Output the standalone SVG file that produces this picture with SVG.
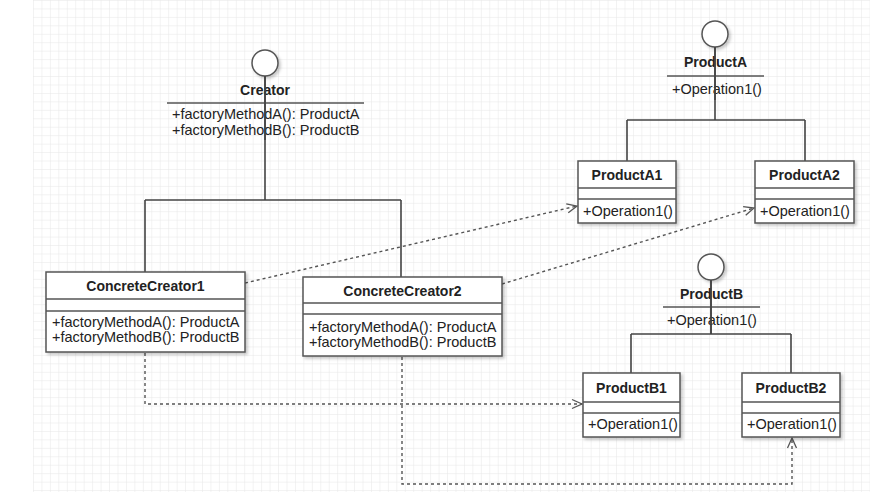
<svg xmlns="http://www.w3.org/2000/svg" width="896" height="495" viewBox="0 0 896 495">
<defs>
<pattern id="grid" x="33" y="0" width="8.45" height="8.45" patternUnits="userSpaceOnUse">
<path d="M0 0H8.45M0 0V8.45" fill="none" stroke="#e6e6e6" stroke-width="1"/>
</pattern>
<filter id="sh" x="-10%" y="-10%" width="130%" height="130%">
<feDropShadow dx="2" dy="2" stdDeviation="1.5" flood-color="#000" flood-opacity="0.22"/>
</filter>
<marker id="open" viewBox="0 0 12 12" refX="11" refY="6" markerWidth="12" markerHeight="12" markerUnits="userSpaceOnUse" orient="auto">
<path d="M1 1.5L11 6L1 10.5" fill="none" stroke="#555" stroke-width="1.3"/>
</marker>
<style>
.box{fill:#fff;stroke:#555;stroke-width:1.5;filter:url(#sh)}
.div{stroke:#555;stroke-width:1.5}
.title{font-family:"Liberation Sans",Arial,sans-serif;font-size:14px;font-weight:bold;fill:#222;text-anchor:middle}
.mem{font-family:"Liberation Sans",Arial,sans-serif;font-size:14.5px;fill:#222}
.gen{fill:none;stroke:#444;stroke-width:1.6}
.dep{fill:none;stroke:#555;stroke-width:1.4;stroke-dasharray:3 3}
.lol{fill:#fff;stroke:#555;stroke-width:1.5;filter:url(#sh)}
</style>
</defs>
<rect x="0" y="0" width="896" height="495" fill="#fff"/>
<rect x="33" y="0" width="837" height="492" fill="url(#grid)"/>

<g id="connectors">
<path class="gen" d="M265 76V200M145 200H401M145 200V272M401 200V277"/>
<path class="gen" d="M715 47V120M627 120H805M627 120V161M805 120V161"/>
<path class="gen" d="M711 280V334M631 334H791M631 334V373M791 334V373"/>
<path class="dep" d="M245 283L577 206" marker-end="url(#open)"/>
<path class="dep" d="M502 284L754 208" marker-end="url(#open)"/>
<path class="dep" d="M145 353V404H582" marker-end="url(#open)"/>
<path class="dep" d="M402 357V484H792V438" marker-end="url(#open)"/>
</g>

<g id="Creator">
<circle class="lol" cx="265" cy="63" r="13"/>
<text class="title" x="265" y="95">Creator</text>
<line class="div" x1="167" y1="103" x2="364" y2="103"/>
<text class="mem" x="172" y="119">+factoryMethodA(): ProductA</text>
<text class="mem" x="172" y="135">+factoryMethodB(): ProductB</text>
<line x1="265" y1="76" x2="265" y2="140" stroke="#444" stroke-width="1.6"/>
</g>

<g id="ConcreteCreator1">
<rect class="box" x="46" y="272" width="199" height="80"/>
<line class="div" x1="46" y1="299" x2="245" y2="299"/>
<line class="div" x1="46" y1="311" x2="245" y2="311"/>
<text class="title" x="145.5" y="291">ConcreteCreator1</text>
<text class="mem" x="52" y="327">+factoryMethodA(): ProductA</text>
<text class="mem" x="52" y="342">+factoryMethodB(): ProductB</text>
</g>

<g id="ConcreteCreator2">
<rect class="box" x="303" y="277" width="199" height="79"/>
<line class="div" x1="303" y1="303" x2="502" y2="303"/>
<line class="div" x1="303" y1="314" x2="502" y2="314"/>
<text class="title" x="402.5" y="296">ConcreteCreator2</text>
<text class="mem" x="309" y="332">+factoryMethodA(): ProductA</text>
<text class="mem" x="309" y="347">+factoryMethodB(): ProductB</text>
</g>

<g id="ProductA">
<circle class="lol" cx="715" cy="34" r="13"/>
<text class="title" x="715.5" y="67">ProductA</text>
<line class="div" x1="667" y1="76" x2="764" y2="76"/>
<text class="mem" x="672" y="94">+Operation1()</text>
<line x1="715" y1="47" x2="715" y2="100" stroke="#444" stroke-width="1.6"/>
</g>

<g id="ProductA1">
<rect class="box" x="578" y="161" width="98" height="62"/>
<line class="div" x1="578" y1="188" x2="676" y2="188"/>
<line class="div" x1="578" y1="199" x2="676" y2="199"/>
<text class="title" x="627" y="180">ProductA1</text>
<text class="mem" x="583" y="216">+Operation1()</text>
</g>

<g id="ProductA2">
<rect class="box" x="755" y="161" width="99" height="62"/>
<line class="div" x1="755" y1="188" x2="854" y2="188"/>
<line class="div" x1="755" y1="199" x2="854" y2="199"/>
<text class="title" x="804.5" y="180">ProductA2</text>
<text class="mem" x="760" y="216">+Operation1()</text>
</g>

<g id="ProductB">
<circle class="lol" cx="711" cy="267" r="13"/>
<text class="title" x="711.5" y="299">ProductB</text>
<line class="div" x1="663" y1="307" x2="760" y2="307"/>
<text class="mem" x="667" y="325">+Operation1()</text>
<line x1="711" y1="280" x2="711" y2="334" stroke="#444" stroke-width="1.6"/>
</g>

<g id="ProductB1">
<rect class="box" x="583" y="373" width="97" height="64"/>
<line class="div" x1="583" y1="402" x2="680" y2="402"/>
<line class="div" x1="583" y1="413" x2="680" y2="413"/>
<text class="title" x="631.5" y="393">ProductB1</text>
<text class="mem" x="588" y="429">+Operation1()</text>
</g>

<g id="ProductB2">
<rect class="box" x="742" y="373" width="98" height="64"/>
<line class="div" x1="742" y1="402" x2="840" y2="402"/>
<line class="div" x1="742" y1="413" x2="840" y2="413"/>
<text class="title" x="791" y="393">ProductB2</text>
<text class="mem" x="747" y="429">+Operation1()</text>
</g>
</svg>
